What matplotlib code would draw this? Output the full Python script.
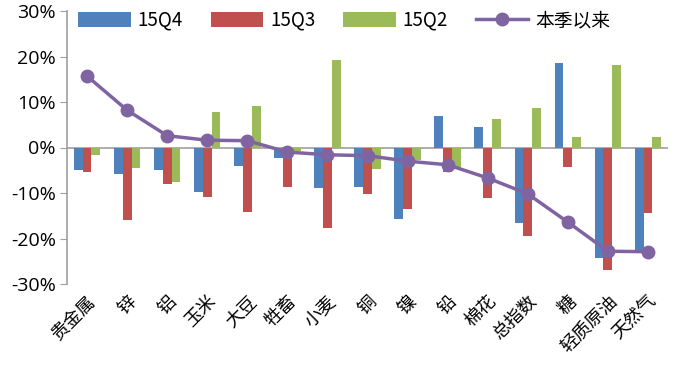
import numpy as np
import matplotlib
matplotlib.use("Agg")
import matplotlib.pyplot as plt

plt.rcParams["font.family"] = ["Noto Sans CJK SC", "DejaVu Sans"]

# categories and series (values in %)
categories = ["贵金属", "锌", "铝", "玉米", "大豆", "牲畜", "小麦", "铜",
              "镍", "铅", "棉花", "总指数", "糖", "轻质原油", "天然气"]
q4 = [-5.0, -5.9, -5.0, -9.7, -4.0, -2.3, -8.9, -8.7, -15.7, 7.0, 4.5, -16.6, 18.5, -24.3, -23.0]
q3 = [-5.3, -16.0, -8.0, -10.8, -14.1, -8.6, -17.6, -10.3, -13.5, -5.3, -11.0, -19.4, -4.3, -27.0, -14.4]
q2 = [-1.7, -4.4, -7.6, 7.8, 9.2, -0.7, 19.3, -4.8, -2.7, -4.7, 6.2, 8.7, 2.2, 18.2, 2.4]
since = [15.7, 8.2, 2.6, 1.6, 1.5, -1.0, -1.6, -1.8, -3.0, -3.8, -6.7, -10.2, -16.4, -22.8, -22.9]

fig = plt.figure(figsize=(6.91, 3.65), dpi=100)
ax = fig.add_axes([67 / 691, (365 - 284) / 365, (668 - 67) / 691, (284 - 11) / 365])

x = np.arange(len(categories))
w = 0.22
b1 = ax.bar(x - w, q4, w, color="#4F81BD", label="15Q4", zorder=2)
b2 = ax.bar(x, q3, w, color="#C0504D", label="15Q3", zorder=2)
b3 = ax.bar(x + w, q2, w, color="#9BBB59", label="15Q2", zorder=2)
ln, = ax.plot(x, since, color="#8064A2", lw=2.5, marker="o", ms=9, label="本季以来", zorder=3)

ax.axhline(0, color="#A0A0A0", lw=1.2, zorder=1)
ax.set_xlim(-0.5, len(categories) - 0.5)
ax.set_ylim(-30, 30)
ax.set_yticks(range(-30, 31, 10))
ax.set_yticklabels([f"{v}%" for v in range(-30, 31, 10)], fontsize=14,
                   family=["Open Sans", "DejaVu Sans"])

for s in ["top", "right", "bottom"]:
    ax.spines[s].set_visible(False)
ax.spines["left"].set_color("#A0A0A0")
ax.spines["left"].set_linewidth(1.2)
ax.tick_params(axis="y", length=5, color="#A0A0A0", pad=3)
ax.tick_params(axis="x", length=0, pad=6)

ax.set_xticks(x)
ax.set_xticklabels(categories, rotation=45, ha="right", rotation_mode="anchor",
                   fontsize=13)

ax.legend([b1, b2, b3, ln], ["15Q4", "15Q3", "15Q2", "本季以来"],
          loc="upper left", bbox_to_anchor=(0.0, 1.045), ncol=4, frameon=False,
          fontsize=13.5, handlelength=2.8, handleheight=0.85, columnspacing=1.5,
          handletextpad=0.35, borderaxespad=0.3, borderpad=0.3)

fig.savefig("out.png", dpi=100)
